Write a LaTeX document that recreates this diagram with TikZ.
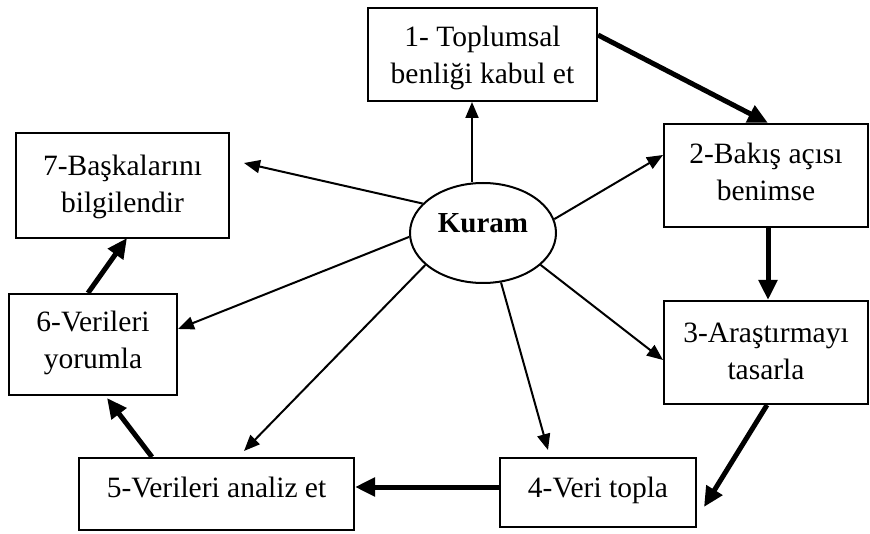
\documentclass[tikz,border=0pt]{standalone}
\usepackage{fontspec}
\setmainfont{Liberation Serif}
\usetikzlibrary{arrows.meta,shapes.geometric}
\begin{document}
\begin{tikzpicture}[x=1pt,y=-1pt,
  box/.style={draw,line width=2pt,align=center,inner sep=0pt,font=\fontsize{29.5}{37}\selectfont},
  thinarrow/.style={line width=2pt,-{Triangle[length=16pt,width=13pt]}},
  thickarrow/.style={line width=5pt,-{Triangle[length=20pt,width=18pt]}}]
\useasboundingbox (0,0) rectangle (870,534);
\node[box,minimum width=229pt,minimum height=93pt,text height=59pt,text depth=0pt] (b1) at (482.5,54.5) {1- Toplumsal\\benliği kabul et};
\node[box,minimum width=204pt,minimum height=103pt,text height=57pt,text depth=6pt] (b2) at (766,175.5) {2-Bakış açısı\\benimse};
\node[box,minimum width=204pt,minimum height=103pt,text height=57pt,text depth=3pt] (b3) at (766,352.5) {3-Araştırmayı\\tasarla};
\node[box,minimum width=196pt,minimum height=69pt,text height=20pt,text depth=11pt] (b4) at (598,492.5) {4-Veri topla};
\node[box,minimum width=275pt,minimum height=72pt,text height=20pt,text depth=14pt] (b5) at (216.5,494) {5-Verileri analiz et};
\node[box,minimum width=168pt,minimum height=101pt,text height=57pt,text depth=8pt] (b6) at (93,344.5) {6-Verileri\\yorumla};
\node[box,minimum width=213pt,minimum height=105pt,text height=57pt,text depth=3pt] (b7) at (122.5,185.5) {7-Başkalarını\\bilgilendir};
\node[ellipse,draw,line width=2pt,minimum width=146pt,minimum height=100pt,inner sep=0pt,
  font=\fontsize{29}{34}\selectfont\bfseries,text height=19pt,text depth=19pt] (k) at (483,233) {Kuram};
% thin arrows
\coordinate (e1) at ([xshift=-10.5pt]b1.south);
\coordinate (e2) at ([yshift=20.5pt]b2.west);
\coordinate (e3) at ([yshift=-7.5pt]b3.west);
\coordinate (e4) at ([xshift=-50pt,yshift=7pt]b4.north);
\coordinate (e5) at ([xshift=27.5pt,yshift=6pt]b5.north);
\coordinate (e6) at ([yshift=15.5pt]b6.east);
\coordinate (e7) at ([xshift=14pt,yshift=22.5pt]b7.east);
\draw[thinarrow] (k.north -| e1) -- (e1);
\draw[thinarrow] (k.11) -- (e2);
\draw[thinarrow] (k.-29.5) -- (e3);
\draw[thinarrow] (k.-70.5) -- (e4);
\draw[thinarrow] (k.209) -- (e5);
\draw[thinarrow] (k.183) -- (e6);
\draw[thinarrow] (k.154) -- (e7);
% thick arrows
\coordinate (s12) at ([yshift=19.5pt]b1.east);
\coordinate (s34) at ([xshift=1pt]b3.south);
\coordinate (e34) at ([xshift=7pt,yshift=-14.5pt]b4.east);
\coordinate (s45) at ([yshift=5.5pt]b4.west);
\coordinate (s56) at ([xshift=-64.5pt]b5.north);
\coordinate (e56) at ([xshift=14pt,yshift=-2pt]b6.south);
\coordinate (s67) at ([xshift=-5pt]b6.north);
\coordinate (e67) at ([xshift=4.5pt,yshift=1pt]b7.south);
\draw[thickarrow] (s12) -- ([xshift=2pt]b2.north);
\draw[thickarrow] ([xshift=2pt]b2.south) -- ([xshift=2pt]b3.north);
\draw[thickarrow] (s34) -- (e34);
\draw[thickarrow] (s45) -- (s45 -| b5.east);
\draw[thickarrow] (s56) -- (e56);
\draw[thickarrow] (s67) -- (e67);
\end{tikzpicture}
\end{document}
